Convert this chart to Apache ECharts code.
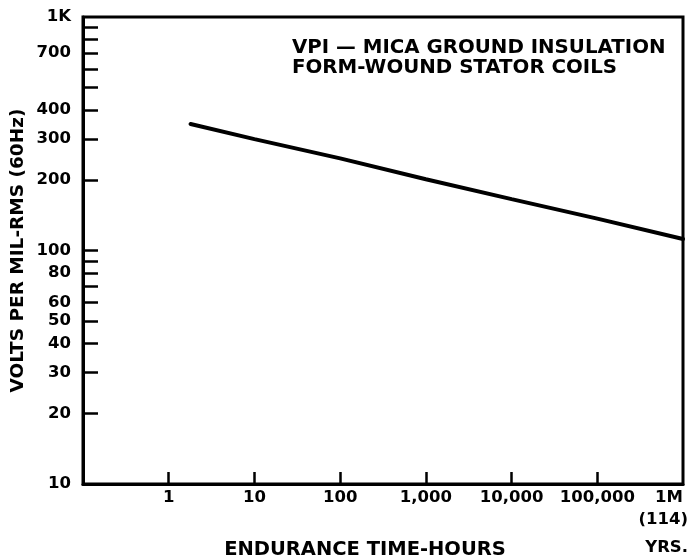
<!DOCTYPE html>
<html><head><meta charset="utf-8">
<script src="https://cdn.jsdelivr.net/npm/echarts@6/dist/echarts.min.js"></script>
<style>html,body{margin:0;padding:0;background:#fff}#c{width:690px;height:558px}</style>
</head><body><div id="c"></div>
<script>
// data
const hours = [1.8, 10, 100, 1000, 10000, 100000, 1000000];
const voltsPerMil = [348, 300, 248, 202, 166, 137, 112];
// axis ticks / labels
const xTickValues = [1, 10, 100, 1000, 10000, 100000];
const xLabelValues = [1, 10, 100, 1000, 10000, 100000, 1000000];
const xLabelTexts = ['1', '10', '100', '1,000', '10,000', '100,000', '{m|1M}\n{y1|(114)}\n{y2|YRS.}'];
const yTickValues = [20, 30, 40, 50, 60, 70, 80, 90, 100, 200, 300, 400, 500, 600, 700, 800, 900];
const yLabelValues = [10, 20, 30, 40, 50, 60, 80, 100, 200, 300, 400, 700, 1000];
const yLabelTexts = ['10', '20', '30', '40', '50', '60', '80', '100', '200', '300', '400', '700', '1K'];
const titleLines = ['VPI — MICA GROUND INSULATION', 'FORM-WOUND STATOR COILS'];

const FONT = 'DejaVu Sans';
function lookup(vals, texts, v) {
  const i = vals.findIndex(x => Math.abs(Math.log10(x) - Math.log10(v)) < 1e-6);
  return i >= 0 ? texts[i] : '';
}
const chart = echarts.init(document.getElementById('c'), null, {renderer: 'canvas'});
chart.setOption({
  animation: false,
  backgroundColor: '#fff',
  title: {
    text: titleLines.join('\n'),
    left: 292, top: 38, padding: 0,
    textStyle: {fontFamily: FONT, fontWeight: 'bold', fontSize: 19.8, lineHeight: 20, color: '#000'}
  },
  grid: {left: 83, right: 7, top: 17, bottom: 74, show: true, borderColor: '#000', borderWidth: 3,
         containLabel: false, outerBoundsMode: 'none'},
  xAxis: {
    type: 'log', min: 0.1, max: 1000000, logBase: 10,
    name: 'ENDURANCE TIME-HOURS', nameLocation: 'middle', nameGap: 56, nameMoveOverlap: false,
    nameTextStyle: {fontFamily: FONT, fontWeight: 'bold', fontSize: 19.5, color: '#000', padding: [0, 36, 0, 0]},
    axisLine: {show: true, onZero: false, lineStyle: {color: '#000', width: 3}},
    axisTick: {show: true, inside: true, length: 12, customValues: xTickValues, lineStyle: {color: '#000', width: 2.5}},
    minorTick: {show: false},
    splitLine: {show: false},
    axisLabel: {
      customValues: xLabelValues, margin: 4, lineHeight: 20, alignMaxLabel: 'right',
      fontFamily: FONT, fontWeight: 'bold', fontSize: 16.5, color: '#000',
      formatter: v => lookup(xLabelValues, xLabelTexts, v),
      rich: {
        m: {fontFamily: FONT, fontWeight: 'bold', fontSize: 16.5, color: '#000', lineHeight: 20},
        y1: {fontFamily: FONT, fontWeight: 'bold', fontSize: 16.5, color: '#000', lineHeight: 24, padding: [0, -5, 0, 0]},
        y2: {fontFamily: FONT, fontWeight: 'bold', fontSize: 16.5, color: '#000', lineHeight: 32, padding: [0, -5, 0, 0]}
      }
    }
  },
  yAxis: {
    type: 'log', min: 10, max: 1000, logBase: 10,
    name: 'VOLTS PER MIL-RMS (60Hz)', nameLocation: 'middle', nameGap: 55, nameMoveOverlap: false,
    nameTextStyle: {fontFamily: FONT, fontWeight: 'bold', fontSize: 18.5, color: '#000'},
    axisLine: {show: true, onZero: false, lineStyle: {color: '#000', width: 3}},
    axisTick: {show: true, inside: true, length: 15, customValues: yTickValues, lineStyle: {color: '#000', width: 2.5}},
    minorTick: {show: false},
    splitLine: {show: false},
    axisLabel: {
      customValues: yLabelValues, margin: 12,
      fontFamily: FONT, fontWeight: 'bold', fontSize: 16.5, color: '#000',
      formatter: v => lookup(yLabelValues, yLabelTexts, v)
    }
  },
  series: [{
    type: 'line',
    data: hours.map((h, i) => [h, voltsPerMil[i]]),
    symbol: 'none',
    lineStyle: {color: '#000', width: 4, cap: 'round'},
    silent: true
  }]
});
</script></body></html>
